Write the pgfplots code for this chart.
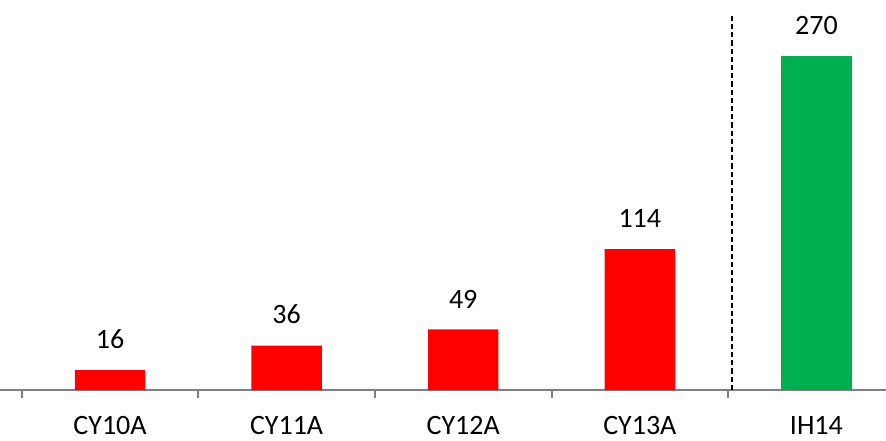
\documentclass[border=0pt]{standalone}
\usepackage{fontspec}
\setmainfont{Carlito}
\usepackage{pgfplots}
\pgfplotsset{compat=1.18}
\definecolor{barred}{RGB}{255,0,0}
\definecolor{bargreen}{RGB}{0,176,80}
\definecolor{axgray}{RGB}{128,128,128}

\begin{document}
\begin{tikzpicture}
\begin{axis}[
  x=88.3pt, y=0.6185pt,
  xmin=-0.623, xmax=4.394,
  ymin=0, ymax=315.3,
  clip=false,
  hide y axis,
  axis x line*=bottom,
  x axis line style={-, draw=axgray, line width=1pt},
  xtick={0,1,2,3,4},
  xticklabels={CY10A, CY11A, CY12A, CY13A, IH14},
  major tick length=0pt,
  xticklabel style={font=\fontsize{14}{16}\selectfont, inner sep=0pt, yshift=-13pt},
  extra x ticks={-0.5,0.5,1.5,2.5,3.5},
  extra x tick labels={},
  extra x tick style={major tick length=3.8pt, tick align=outside,
    tick style={draw=axgray, line width=1pt}},
  /pgf/number format/assume math mode=true,
  every node near coord/.append style={font=\fontsize{14}{16}\selectfont,
    inner sep=0pt, anchor=south, yshift=10.5pt, text=black},
]
  \addplot[ybar, bar width=35.2pt, bar shift=0pt, fill=barred, draw=none,
    nodes near coords]
    coordinates {(0,16)(1,36)(2,49)(3,114)};
  \addplot[ybar, bar width=35.2pt, bar shift=0pt, fill=bargreen, draw=none,
    nodes near coords]
    coordinates {(4,270)};
  \draw[black, line width=1pt, dash pattern=on 2.6pt off 1.5pt]
    (axis cs:3.52,0) -- (axis cs:3.52,304);
  \coordinate (bl) at (axis cs:-0.623,-40.4);
  \coordinate (tr) at (axis cs:4.394,315.3);
\end{axis}
\pgfresetboundingbox
\useasboundingbox (bl) rectangle (tr);
\end{tikzpicture}
\end{document}
